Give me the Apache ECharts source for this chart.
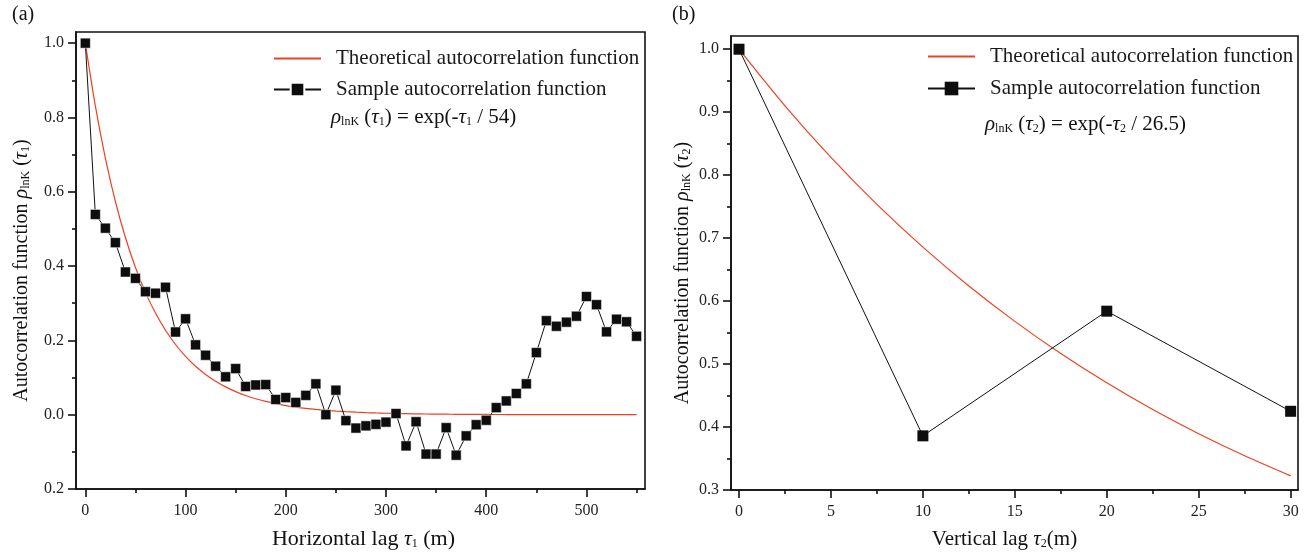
<!DOCTYPE html>
<html>
<head>
<meta charset="utf-8">
<script src="https://cdn.jsdelivr.net/npm/echarts@6/dist/echarts.min.js"></script>
<style>
  html, body { margin: 0; padding: 0; background: #fff; }
  #chart { width: 1309px; height: 555px; }
</style>
</head>
<body>
<div id="chart"></div>
<script>
// ---- Panel (a): horizontal lag ----
const lagA = [0, 10, 20, 30, 40, 50, 60, 70, 80, 90, 100, 110, 120, 130, 140, 150, 160, 170, 180, 190,
  200, 210, 220, 230, 240, 250, 260, 270, 280, 290, 300, 310, 320, 330, 340, 350, 360, 370, 380, 390,
  400, 410, 420, 430, 440, 450, 460, 470, 480, 490, 500, 510, 520, 530, 540, 550];
const sampleA = [1.0, 0.539, 0.502, 0.463, 0.384, 0.367, 0.331, 0.327, 0.343, 0.2225, 0.258, 0.188, 0.160,
  0.1305, 0.102, 0.124, 0.076, 0.080, 0.081, 0.041, 0.046, 0.033, 0.052, 0.083, 0.0, 0.066, -0.016, -0.036,
  -0.030, -0.026, -0.020, 0.003, -0.084, -0.019, -0.106, -0.106, -0.035, -0.109, -0.057, -0.027, -0.015,
  0.019, 0.037, 0.057, 0.083, 0.167, 0.253, 0.238, 0.249, 0.265, 0.318, 0.296, 0.223, 0.257, 0.250, 0.211];
// exp(-tau1 / 54) tabulated at the same lags
const theoryA = [1.0, 0.8310, 0.6905, 0.5738, 0.4768, 0.3962, 0.3292, 0.2736, 0.2273, 0.1889, 0.1569,
  0.1304, 0.1084, 0.0901, 0.0748, 0.0622, 0.0517, 0.0429, 0.0357, 0.0297, 0.0246, 0.0205, 0.0170, 0.0141,
  0.0117, 0.0098, 0.0081, 0.0067, 0.0056, 0.0047, 0.0039, 0.0032, 0.0027, 0.0022, 0.0018, 0.0015, 0.0013,
  0.0011, 0.0009, 0.0007, 0.0006, 0.0005, 0.0004, 0.0003, 0.0003, 0.0002, 0.0002, 0.0002, 0.0001, 0.0001,
  0.0001, 0.0001, 0.0001, 0.0001, 0.0000, 0.0000];
const xTicksA = [0, 100, 200, 300, 400, 500];
const xMinorA = [50, 150, 250, 350, 450, 550];
const yTicksA = [-0.2, 0.0, 0.2, 0.4, 0.6, 0.8, 1.0];
const yTickLabelsA = ['0.2', '0.0', '0.2', '0.4', '0.6', '0.8', '1.0'];
const yMinorA = [-0.1, 0.1, 0.3, 0.5, 0.7, 0.9];

// ---- Panel (b): vertical lag ----
const lagB = [0, 10, 20, 30];
const sampleB = [1.0, 0.386, 0.584, 0.425];
const theoryLagB = [0, 2.5, 5, 7.5, 10, 12.5, 15, 17.5, 20, 22.5, 25, 27.5, 30];
// exp(-tau2 / 26.5) tabulated
const theoryB = [1.0, 0.9100, 0.8281, 0.7535, 0.6857, 0.6240, 0.5678, 0.5167, 0.4702, 0.4278, 0.3893, 0.3543, 0.3224];
const xTicksB = [0, 5, 10, 15, 20, 25, 30];
const xMinorB = [2.5, 7.5, 12.5, 17.5, 22.5, 27.5];
const yTicksB = [0.3, 0.4, 0.5, 0.6, 0.7, 0.8, 0.9, 1.0];
const yMinorB = [0.35, 0.45, 0.55, 0.65, 0.75, 0.85, 0.95];

const serif = '"Liberation Serif", "DejaVu Serif", serif';
const red = '#ee4123';
const ink = '#111';

function titleRich(size, subSize) {
  return {
    it: { fontFamily: serif, fontStyle: 'italic', fontSize: size, color: ink },
    sub: { fontFamily: serif, fontSize: subSize, color: ink, padding: [Math.round(size * 0.45), 0, 0, 0] },
    n: { fontFamily: serif, fontSize: size, color: ink }
  };
}

function mainX(grid, min, max, ticks) {
  return {
    type: 'value', gridIndex: grid, min: min, max: max, position: 'bottom',
    axisLine: { show: true, onZero: false, lineStyle: { color: ink, width: 1.6 } },
    axisTick: { show: true, inside: false, length: 8, customValues: ticks, lineStyle: { color: ink, width: 1.6 } },
    axisLabel: { show: true, customValues: ticks, margin: 14, fontFamily: serif, fontSize: 16, color: '#222' },
    splitLine: { show: false }
  };
}
function minorX(grid, min, max, ticks) {
  return {
    type: 'value', gridIndex: grid, min: min, max: max, position: 'bottom', offset: 0,
    axisLine: { show: false, onZero: false },
    axisTick: { show: true, inside: false, length: 4, customValues: ticks, lineStyle: { color: ink, width: 1.6 } },
    axisLabel: { show: false },
    splitLine: { show: false }
  };
}
function mainY(grid, min, max, ticks, fmt) {
  return {
    type: 'value', gridIndex: grid, min: min, max: max, position: 'left',
    axisLine: { show: true, onZero: false, lineStyle: { color: ink, width: 1.6 } },
    axisTick: { show: true, inside: false, length: 8, customValues: ticks, lineStyle: { color: ink, width: 1.6 } },
    axisLabel: { show: true, customValues: ticks, margin: 12, fontFamily: serif, fontSize: 16, color: '#222', formatter: fmt },
    splitLine: { show: false }
  };
}
function minorY(grid, min, max, ticks) {
  return {
    type: 'value', gridIndex: grid, min: min, max: max, position: 'left', offset: 0,
    axisLine: { show: false, onZero: false },
    axisTick: { show: true, inside: false, length: 4, customValues: ticks, lineStyle: { color: ink, width: 1.6 } },
    axisLabel: { show: false },
    splitLine: { show: false }
  };
}

const xA = mainX(0, -9.3, 558.4, xTicksA);
xA.name = '{n|Horizontal lag }{it|τ}{sub|1}{n| (m)}';
xA.nameLocation = 'middle';
xA.nameGap = 39;
xA.nameTextStyle = { rich: titleRich(22, 12), padding: [0, 0, 0, 6] };

const yA = mainY(0, -0.2, 1.03, yTicksA, function (v) {
  const i = yTicksA.findIndex(t => Math.abs(t - v) < 1e-6);
  return i >= 0 ? yTickLabelsA[i] : '';
});
yA.name = '{n|Autocorrelation function }{it|ρ}{sub|lnK}{n| (}{it|τ}{sub|1}{n|)}';
yA.nameLocation = 'middle';
yA.nameGap = 44;
yA.nameTextStyle = { rich: titleRich(20, 12), padding: [0, 20, 0, 0] };

const xB = mainX(1, -0.435, 30.4, xTicksB);
xB.name = '{n|Vertical lag }{it|τ}{sub|2}{n|(m)}';
xB.nameLocation = 'middle';
xB.nameGap = 39;
xB.nameTextStyle = { rich: titleRich(21, 12), padding: [0, 20, 0, 0] };

const yB = mainY(1, 0.3, 1.021, yTicksB, v => v.toFixed(1));
yB.name = '{n|Autocorrelation function }{it|ρ}{sub|lnK}{n| (}{it|τ}{sub|2}{n|)}';
yB.nameLocation = 'middle';
yB.nameGap = 38;
yB.nameTextStyle = { rich: titleRich(20, 12), padding: [0, 20, 0, 0] };

const formulaRich = {
  it: { fontFamily: serif, fontStyle: 'italic', fontSize: 21, fill: ink },
  sub: { fontFamily: serif, fontSize: 12, fill: ink, padding: [9, 0, 0, 0] },
  n: { fontFamily: serif, fontSize: 21, fill: ink }
};

const legendText = { fontFamily: serif, fontSize: 21, color: '#1a1a1a', padding: [0, 0, 0, 10] };

const chart = echarts.init(document.getElementById('chart'), null, { renderer: 'canvas' });
chart.setOption({
  backgroundColor: '#fff',
  animation: false,
  grid: [
    { left: 76, top: 32, width: 569, height: 459, show: true, borderColor: ink, borderWidth: 1.6, backgroundColor: 'transparent' },
    { left: 731, top: 36, width: 567, height: 456, show: true, borderColor: ink, borderWidth: 1.6, backgroundColor: 'transparent' }
  ],
  xAxis: [xA, minorX(0, -9.3, 558.4, xMinorA), xB, minorX(1, -0.435, 30.4, xMinorB)],
  yAxis: [yA, minorY(0, -0.2, 1.03, yMinorA), yB, minorY(1, 0.3, 1.021, yMinorB)],
  legend: [
    {
      data: [
        { name: 'Theoretical autocorrelation function', itemStyle: { opacity: 0 } },
        { name: 'Sample autocorrelation function' }
      ],
      orient: 'vertical', left: 268, top: 43, itemWidth: 47, itemHeight: 17, itemGap: 10,
      textStyle: legendText, selectedMode: false
    },
    {
      data: [
        { name: 'Theoretical autocorrelation function ', itemStyle: { opacity: 0 } },
        { name: 'Sample autocorrelation function ' }
      ],
      orient: 'vertical', left: 922, top: 41, itemWidth: 47, itemHeight: 17, itemGap: 11,
      textStyle: legendText, selectedMode: false
    }
  ],
  graphic: [
    { type: 'text', left: 12, top: 5, style: { text: '(a)', font: '20px ' + serif, fill: ink } },
    { type: 'text', left: 672, top: 5, style: { text: '(b)', font: '20px ' + serif, fill: ink } },
    {
      type: 'text', left: 331, top: 107,
      style: { text: '{it|ρ}{sub|lnK}{n| (}{it|τ}{sub|1}{n|) = exp(-}{it|τ}{sub|1}{n| / 54)}', rich: formulaRich }
    },
    {
      type: 'text', left: 985, top: 114,
      style: { text: '{it|ρ}{sub|lnK}{n| (}{it|τ}{sub|2}{n|) = exp(-}{it|τ}{sub|2}{n| / 26.5)}', rich: formulaRich }
    }
  ],
  series: [
    {
      name: 'Theoretical autocorrelation function', type: 'line', xAxisIndex: 0, yAxisIndex: 0,
      data: lagA.map((x, i) => [x, theoryA[i]]), smooth: 0.3, showSymbol: false, symbol: 'none',
      lineStyle: { color: red, width: 1.2 }, itemStyle: { color: red }, z: 3
    },
    {
      name: 'Sample autocorrelation function', type: 'line', xAxisIndex: 0, yAxisIndex: 0,
      data: lagA.map((x, i) => [x, sampleA[i]]), symbol: 'rect', symbolSize: 10,
      lineStyle: { color: ink, width: 1 }, itemStyle: { color: '#0d0d0d', borderColor: '#fff', borderWidth: 0.5 }, z: 4
    },
    {
      name: 'Theoretical autocorrelation function ', type: 'line', xAxisIndex: 2, yAxisIndex: 2,
      data: theoryLagB.map((x, i) => [x, theoryB[i]]), smooth: 0.3, showSymbol: false, symbol: 'none',
      lineStyle: { color: red, width: 1.2 }, itemStyle: { color: red }, z: 3
    },
    {
      name: 'Sample autocorrelation function ', type: 'line', xAxisIndex: 2, yAxisIndex: 2,
      data: lagB.map((x, i) => [x, sampleB[i]]), symbol: 'rect', symbolSize: 11,
      lineStyle: { color: ink, width: 1 }, itemStyle: { color: '#0d0d0d' }, z: 4
    }
  ]
});
</script>
</body>
</html>
